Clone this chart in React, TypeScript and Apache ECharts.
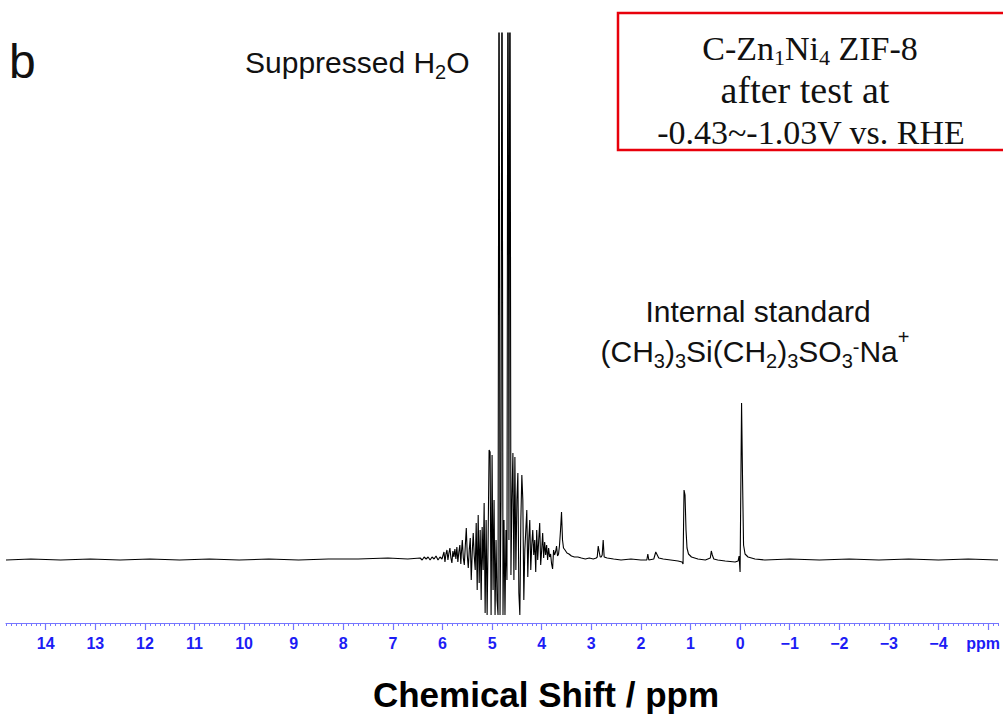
import React, { useEffect, useRef } from "react";
import * as echarts from "echarts";

// Major tick values on the chemical-shift axis (ppm); −5 is labelled with the unit.
const xTickLabels: number[] = [14, 13, 12, 11, 10, 9, 8, 7, 6, 5, 4, 3, 2, 1, 0, -1, -2, -3, -4, -5];
const axisUnit = "ppm";
const axisTitle = "Chemical Shift / ppm";

// Spectrum points: [chemical shift (ppm), intensity (a.u.)]
const leftBaseline: [number, number][] = [
  [14.8, 0], [14.3, 1], [13.7, 0], [13.1, 1], [12.5, 0], [11.9, 1], [11.3, 0], [10.7, 1],
  [10.1, 0], [9.5, 1], [8.9, 0], [8.3, 1], [7.7, 1], [7.1, 2], [6.7, 1], [6.45, 2],
  [6.41, 0], [6.37, 3], [6.33, 1], [6.29, 3], [6.25, 0], [6.21, 3], [6.17, 1], [6.13, 4],
  [6.09, 0], [6.05, 3], [6.01, 1],
];

const preWaterNoise: [number, number][] = [
  [5.97, 8], [5.95, -2], [5.93, 6], [5.91, 10], [5.89, 0], [5.87, 7], [5.85, 12], [5.83, 2],
  [5.81, -3], [5.79, 9], [5.77, 3], [5.75, 11], [5.73, 1], [5.71, 13], [5.69, -2], [5.67, 8],
  [5.65, 15], [5.63, -4], [5.62, 6],
];

const waterRegion: [number, number][] = [
  [5.60, 20], [5.58, 2], [5.56, -5], [5.54, 14], [5.52, 32], [5.50, 5], [5.48, -8], [5.46, 10],
  [5.44, 22], [5.42, -20], [5.40, 8], [5.38, 27], [5.36, 4], [5.34, -10], [5.32, 37], [5.30, -30],
  [5.28, 45], [5.26, -23], [5.24, 30], [5.22, -40], [5.20, 33], [5.18, -10], [5.16, 57], [5.14, -53],
  [5.12, 40], [5.10, -55], [5.08, 20], [5.06, 110], [5.04, 108], [5.02, -55], [5.00, 105], [4.98, -30],
  [4.96, 60], [4.94, -55], [4.92, 20], [4.90, -40], [4.88, -55], [4.86, 700], [4.84, -55], [4.82, 60],
  [4.80, 700], [4.78, -55], [4.76, 40], [4.74, -55], [4.72, 30], [4.70, -20], [4.68, 700], [4.66, 20],
  [4.64, 700], [4.62, -15], [4.60, 60], [4.58, 107], [4.56, -20], [4.54, 103], [4.52, -10], [4.50, 60],
  [4.48, 87], [4.46, -33], [4.44, -55], [4.42, 40], [4.40, 85], [4.38, 60], [4.36, -40], [4.34, 10],
  [4.32, 30], [4.30, 50], [4.28, -17], [4.26, 20], [4.24, 40], [4.22, -10], [4.20, 15], [4.18, 30],
  [4.16, 5], [4.14, 20], [4.12, -12], [4.10, 30], [4.08, 0], [4.06, 20], [4.04, 37], [4.02, -5],
  [4.00, 10], [3.98, 27], [3.96, 2], [3.94, 18], [3.92, 5], [3.90, 15], [3.88, 0], [3.86, 12],
  [3.84, 3],
];

const midRegion: [number, number][] = [
  [3.82, 6], [3.80, -4], [3.78, -9], [3.76, 10], [3.74, 5], [3.72, 8], [3.70, 14], [3.68, 4],
  [3.66, 6], [3.64, 15], [3.62, 30], [3.60, 48], [3.58, 20], [3.56, 12], [3.53, 10], [3.49, 7],
  [3.45, 6], [3.40, 4], [3.34, 3], [3.27, 3], [3.20, 2], [3.12, 1], [3.04, 2], [2.96, 1],
  [2.90, 2], [2.88, 3], [2.86, 14], [2.84, 8], [2.82, 3], [2.80, 3], [2.78, 5], [2.76, 20],
  [2.74, 3], [2.68, 2], [2.55, 1], [2.40, 0], [2.20, 1], [2.00, 0], [1.88, 0], [1.86, 6],
  [1.84, 0], [1.74, 1], [1.70, 8], [1.68, 6], [1.64, 2], [1.55, 1], [1.40, 0], [1.25, -1],
  [1.17, -2], [1.15, -4], [1.13, 70], [1.11, 65], [1.09, 30], [1.07, 12], [1.04, 6], [0.98, 3],
  [0.85, 1], [0.70, 0], [0.60, 2], [0.58, 9], [0.56, 5], [0.53, 1], [0.45, 0], [0.30, -1],
  [0.10, -2], [0.04, -1], [0.02, 4],
];

const tspRegion: [number, number][] = [
  [0.00, -12], [-0.03, 157], [-0.05, 80], [-0.07, 15], [-0.10, 6], [-0.16, 3], [-0.30, 1], [-0.50, 0],
];

const rightBaseline: [number, number][] = [
  [-1.0, 1], [-1.6, 0], [-2.2, 1], [-2.8, 0], [-3.4, 1], [-4.0, 0], [-4.6, 1], [-5.2, 0],
];

const sans = "'Liberation Sans', Arial, sans-serif";
const serif = "'Liberation Serif', 'Times New Roman', serif";

export default function App() {
  const ref = useRef<HTMLDivElement>(null);

  useEffect(() => {
    if (!ref.current) return;
    const chart = echarts.init(ref.current, undefined, { renderer: "svg" });

    const spectrum = ([] as [number, number][]).concat(
      leftBaseline, preWaterNoise, waterRegion, midRegion, tspRegion, rightBaseline
    );

    const minorTicks: number[] = [];
    for (let i = -52; i <= 148; i++) {
      if (i % 10 !== 0) minorTicks.push(i / 10);
    }

    const axisBlue = "#7676ff";
    const labelBlue = "#1c1cf5";

    const subSans = { fontSize: 20, fontFamily: sans, height: 21, verticalAlign: "bottom", fill: "#111" };
    const supPlus = { fontSize: 20, fontFamily: sans, height: 11, verticalAlign: "top", fill: "#111" };
    const supMinus = { fontSize: 20, fontFamily: sans, height: 30, verticalAlign: "top", fill: "#111" };
    const subSerif = { fontSize: 22, fontFamily: serif, height: 22, verticalAlign: "bottom", fill: "#111" };

    chart.setOption({
      animation: false,
      backgroundColor: "#ffffff",
      grid: { left: 6, right: 5, top: 33, bottom: 94, containLabel: false, outerBoundsMode: "none" },
      xAxis: [
        {
          type: "value",
          min: -5.2,
          max: 14.8,
          inverse: true,
          position: "bottom",
          axisLine: { show: true, onZero: false, lineStyle: { color: axisBlue, width: 1.2 } },
          axisTick: { show: true, customValues: xTickLabels, length: 7, lineStyle: { color: axisBlue, width: 1.2 } },
          axisLabel: {
            customValues: xTickLabels,
            color: labelBlue,
            fontWeight: "bold",
            fontSize: 16,
            fontFamily: sans,
            margin: 12,
            hideOverlap: false,
            formatter: (v: number) =>
              v === -5 ? `{u|${axisUnit}}` : v < 0 ? "\u2212" + Math.abs(v) : String(v),
            rich: {
              u: {
                color: labelBlue,
                fontWeight: "bold",
                fontSize: 16,
                fontFamily: sans,
                padding: [0, 10, 0, 0],
              },
            },
          },
          splitLine: { show: false },
        },
        {
          type: "value",
          min: -5.2,
          max: 14.8,
          inverse: true,
          position: "bottom",
          axisLine: { show: false, onZero: false },
          axisTick: { show: true, customValues: minorTicks, length: 3, lineStyle: { color: axisBlue, width: 1 } },
          axisLabel: { show: false },
          splitLine: { show: false },
        },
      ],
      yAxis: { type: "value", min: -63, max: 527, show: false },
      series: [
        {
          type: "line",
          xAxisIndex: 0,
          data: spectrum,
          showSymbol: false,
          symbol: "none",
          lineStyle: { color: "#000", width: 1.1 },
          clip: true,
        },
      ],
      graphic: [
        {
          type: "text",
          x: 9,
          y: 61,
          style: { text: "b", font: `48px ${sans}`, fill: "#111", align: "left", verticalAlign: "middle" },
        },
        {
          type: "text",
          x: 245,
          y: 62.6,
          style: {
            text: "Suppressed H{sub|2}O",
            font: `30px ${sans}`,
            lineHeight: 40,
            fill: "#111",
            align: "left",
            verticalAlign: "middle",
            rich: { sub: subSans },
          },
        },
        {
          type: "text",
          x: 758,
          y: 311.6,
          style: { text: "Internal standard", font: `30px ${sans}`, fill: "#111", align: "center", verticalAlign: "middle" },
        },
        {
          type: "text",
          x: 755,
          y: 351.6,
          style: {
            text: "(CH{sub|3}){sub|3}Si(CH{sub|2}){sub|3}SO{sub|3}{minus|-}Na{plus|+}",
            font: `30px ${sans}`,
            lineHeight: 40,
            fill: "#111",
            align: "center",
            verticalAlign: "middle",
            rich: { sub: subSans, minus: supMinus, plus: supPlus },
          },
        },
        {
          type: "rect",
          shape: { x: 618, y: 13, width: 420, height: 137 },
          style: { fill: "#ffffff", stroke: "#e8000b", lineWidth: 2.5 },
        },
        {
          type: "text",
          x: 810,
          y: 48.5,
          style: {
            text: "C-Zn{sub|1}Ni{sub|4} ZIF-8",
            font: `34px ${serif}`,
            lineHeight: 40,
            fill: "#111",
            align: "center",
            verticalAlign: "middle",
            rich: { sub: subSerif },
          },
        },
        {
          type: "text",
          x: 805,
          y: 89.5,
          style: { text: "after test at", font: `38px ${serif}`, fill: "#111", align: "center", verticalAlign: "middle" },
        },
        {
          type: "text",
          x: 811,
          y: 132.5,
          style: { text: "-0.43~-1.03V vs. RHE", font: `34px ${serif}`, fill: "#111", align: "center", verticalAlign: "middle" },
        },
        {
          type: "text",
          x: 546,
          y: 694,
          style: { text: axisTitle, font: `bold 35px ${sans}`, fill: "#000", align: "center", verticalAlign: "middle" },
        },
      ],
    });

    return () => chart.dispose();
  }, []);

  return (
    <div
      ref={ref}
      style={{ position: "fixed", left: 0, top: 0, width: 1003, height: 717, background: "#fff" }}
    />
  );
}
